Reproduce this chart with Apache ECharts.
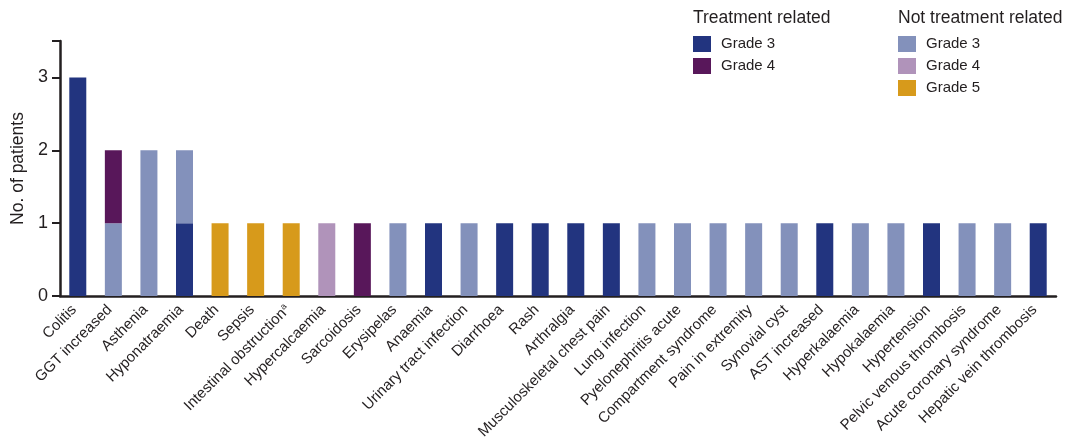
<!DOCTYPE html>
<html>
<head>
<meta charset="utf-8">
<script src="https://cdn.jsdelivr.net/npm/echarts@6/dist/echarts.min.js"></script>
<style>
  html, body { margin: 0; padding: 0; background: #fff; }
  #chart { width: 1068px; height: 437px; }
</style>
</head>
<body>
<div id="chart"></div>
<script>
// Adverse events, one bar per event, stacked by relation and grade
const categories = [
  'Colitis', 'GGT increased', 'Asthenia', 'Hyponatraemia', 'Death', 'Sepsis',
  'Intestinal obstruction{sup|a}', 'Hypercalcaemia', 'Sarcoidosis', 'Erysipelas',
  'Anaemia', 'Urinary tract infection', 'Diarrhoea', 'Rash', 'Arthralgia',
  'Musculoskeletal chest pain', 'Lung infection', 'Pyelonephritis acute',
  'Compartment syndrome', 'Pain in extremity', 'Synovial cyst', 'AST increased',
  'Hyperkalaemia', 'Hypokalaemia', 'Hypertension', 'Pelvic venous thrombosis',
  'Acute coronary syndrome', 'Hepatic vein thrombosis'
];

const relatedGrade3    = [3,0,0,1,0,0,0,0,0,0,1,0,1,1,1,1,0,0,0,0,0,1,0,0,1,0,0,1];
const notRelatedGrade3 = [0,1,2,1,0,0,0,0,0,1,0,1,0,0,0,0,1,1,1,1,1,0,1,1,0,1,1,0];
const relatedGrade4    = [0,1,0,0,0,0,0,0,1,0,0,0,0,0,0,0,0,0,0,0,0,0,0,0,0,0,0,0];
const notRelatedGrade4 = [0,0,0,0,0,0,0,1,0,0,0,0,0,0,0,0,0,0,0,0,0,0,0,0,0,0,0,0];
const notRelatedGrade5 = [0,0,0,0,1,1,1,0,0,0,0,0,0,0,0,0,0,0,0,0,0,0,0,0,0,0,0,0];

const yTicks = [0, 1, 2, 3];

const FONT = '"Liberation Sans", Arial, sans-serif';
const INK = '#231f20';

const COLORS = {
  rel3: '#22347f',
  rel4: '#58175a',
  nrel3: '#8391bb',
  nrel4: '#b093ba',
  nrel5: '#d79a1b'
};

function bar(name, data, color) {
  return {
    name: name,
    type: 'bar',
    stack: 'events',
    barWidth: 17,
    data: data.map(v => (v === 0 ? '-' : v)),
    itemStyle: { color: color },
    emphasis: { disabled: true }
  };
}

const legendText = {
  fontFamily: FONT, fontSize: 15, color: INK, padding: [0, 0, 0, 5]
};

const titleText = {
  fontFamily: FONT, fontSize: 17.5, fontWeight: 'normal', color: INK
};

const chart = echarts.init(document.getElementById('chart'), null, { renderer: 'canvas' });

chart.setOption({
  animation: false,
  backgroundColor: '#ffffff',
  textStyle: { fontFamily: FONT },
  title: [
    { text: 'Treatment related', left: 693, top: 9, padding: 0, textStyle: titleText },
    { text: 'Not treatment related', left: 898, top: 9, padding: 0, textStyle: titleText }
  ],
  legend: [
    {
      orient: 'vertical', left: 693, top: 36, padding: 0,
      itemWidth: 18, itemHeight: 16, itemGap: 6, icon: 'rect',
      selectedMode: false,
      data: ['Treatment related Grade 3', 'Treatment related Grade 4'],
      formatter: n => n.replace('Treatment related ', ''),
      textStyle: legendText
    },
    {
      orient: 'vertical', left: 898, top: 36, padding: 0,
      itemWidth: 18, itemHeight: 16, itemGap: 6, icon: 'rect',
      selectedMode: false,
      data: ['Not treatment related Grade 3', 'Not treatment related Grade 4', 'Not treatment related Grade 5'],
      formatter: n => n.replace('Not treatment related ', ''),
      textStyle: legendText
    }
  ],
  grid: { left: 60, right: 12, top: 41, bottom: 141, containLabel: false, outerBoundsMode: 'none' },
  xAxis: {
    type: 'category',
    data: categories,
    axisLine: { lineStyle: { color: INK, width: 2.5 } },
    axisTick: { show: false },
    axisLabel: {
      rotate: 45,
      interval: 0,
      margin: 8,
      padding: [0, 5, 0, 0],
      fontFamily: FONT,
      fontSize: 15,
      color: INK,
      rich: {
        sup: { fontFamily: FONT, fontSize: 9, color: INK, verticalAlign: 'top', padding: [0, 0, 7, 0] }
      }
    }
  },
  yAxis: {
    type: 'value',
    min: 0,
    max: 3.5,
    interval: 1,
    name: 'No. of patients',
    nameLocation: 'middle',
    nameGap: 29,
    nameTextStyle: { fontFamily: FONT, fontSize: 17.5, color: INK },
    axisLine: { show: true, lineStyle: { color: INK, width: 2.5 } },
    axisTick: { show: true, length: 8, lineStyle: { color: INK, width: 2 } },
    axisLabel: {
      margin: 12,
      fontFamily: FONT,
      fontSize: 18,
      color: INK,
      formatter: v => (yTicks.indexOf(v) >= 0 ? String(v) : '')
    },
    splitLine: { show: false }
  },
  series: [
    bar('Treatment related Grade 3', relatedGrade3, COLORS.rel3),
    bar('Not treatment related Grade 3', notRelatedGrade3, COLORS.nrel3),
    bar('Treatment related Grade 4', relatedGrade4, COLORS.rel4),
    bar('Not treatment related Grade 4', notRelatedGrade4, COLORS.nrel4),
    bar('Not treatment related Grade 5', notRelatedGrade5, COLORS.nrel5)
  ]
});
</script>
</body>
</html>
